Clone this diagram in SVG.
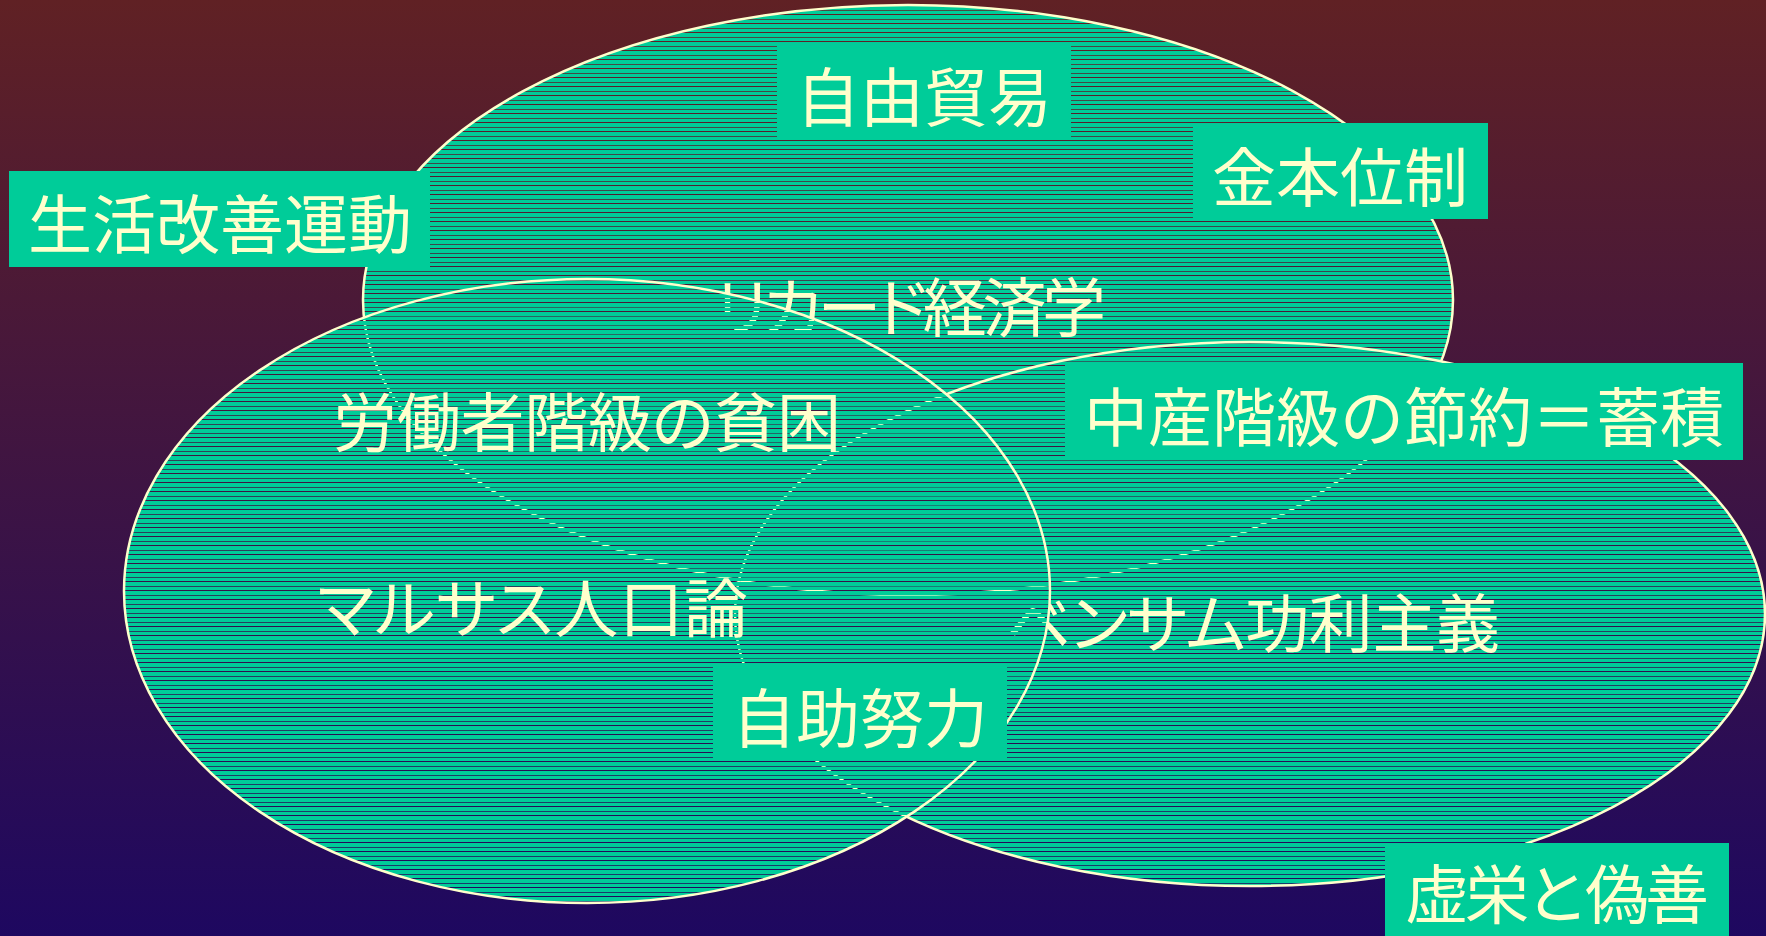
<svg xmlns="http://www.w3.org/2000/svg" width="1766" height="936" viewBox="0 0 1766 936">
  <defs>
    <linearGradient id="bg" x1="0" y1="0" x2="0" y2="1">
      <stop offset="0" stop-color="#602124"/>
      <stop offset="1" stop-color="#1E0860"/>
    </linearGradient>
    <pattern id="hatch" patternUnits="userSpaceOnUse" x="0" y="5" width="20" height="9">
      <rect x="0" y="1" width="20" height="4" fill="#00CC99"/>
      <rect x="0" y="5" width="20" height="1" fill="#00CC99" fill-opacity="0.25"/>
      <rect x="0" y="6" width="20" height="3" fill="#00CC99"/>
    </pattern>
    <style>
      .ell { fill: url(#hatch); stroke: #FFFFCC; stroke-width: 2.5; }
      .box { fill: #00CC99; }
      .t { font-family: "Noto Sans CJK JP", "Noto Sans CJK SC", sans-serif; font-size: 64px; fill: #FFFFCC; }
      .c { text-anchor: middle; }
      .p { font-feature-settings: "palt"; }
    </style>
  </defs>

  <rect x="0" y="0" width="1766" height="936" fill="url(#bg)"/>

  <g id="ricardo">
    <ellipse class="ell" cx="908" cy="300" rx="545" ry="295"/>
    <text class="t p" x="715" y="331" textLength="391" lengthAdjust="spacing">リカード経済学</text>
  </g>

  <g id="bentham">
    <ellipse class="ell" cx="1250" cy="614" rx="515" ry="272"/>
    <text class="t p" x="1006" y="647" textLength="494" lengthAdjust="spacing">ベンサム功利主義</text>
  </g>

  <g id="malthus">
    <ellipse class="ell" cx="587" cy="591" rx="463" ry="312"/>
    <text class="t p" x="317" y="632" textLength="431" lengthAdjust="spacing">マルサス人口論</text>
  </g>

  <g id="poverty">
    <text class="t p" x="333" y="446" textLength="508" lengthAdjust="spacing">労働者階級の貧困</text>
  </g>

  <g id="connectors"></g>

  <g id="free-trade">
    <rect class="box" x="777" y="45" width="294" height="94"/>
    <text class="t c" x="924" y="121">自由貿易</text>
  </g>

  <g id="gold-standard">
    <rect class="box" x="1193" y="123" width="295" height="96"/>
    <text class="t c" x="1340" y="201">金本位制</text>
  </g>

  <g id="life-improvement">
    <rect class="box" x="9" y="171" width="421" height="96"/>
    <text class="t c" x="220" y="248">生活改善運動</text>
  </g>

  <g id="middle-class-saving">
    <rect class="box" x="1065" y="363" width="678" height="97"/>
    <text class="t c" x="1404" y="441">中産階級の節約＝蓄積</text>
  </g>

  <g id="self-help">
    <rect class="box" x="713" y="667" width="294" height="94"/>
    <text class="t c" x="860" y="742">自助努力</text>
  </g>

  <g id="vanity-hypocrisy">
    <rect class="box" x="1385" y="843" width="344" height="93"/>
    <text class="t c" x="1557" y="918" textLength="304" lengthAdjust="spacing">虚栄と偽善</text>
  </g>
</svg>
